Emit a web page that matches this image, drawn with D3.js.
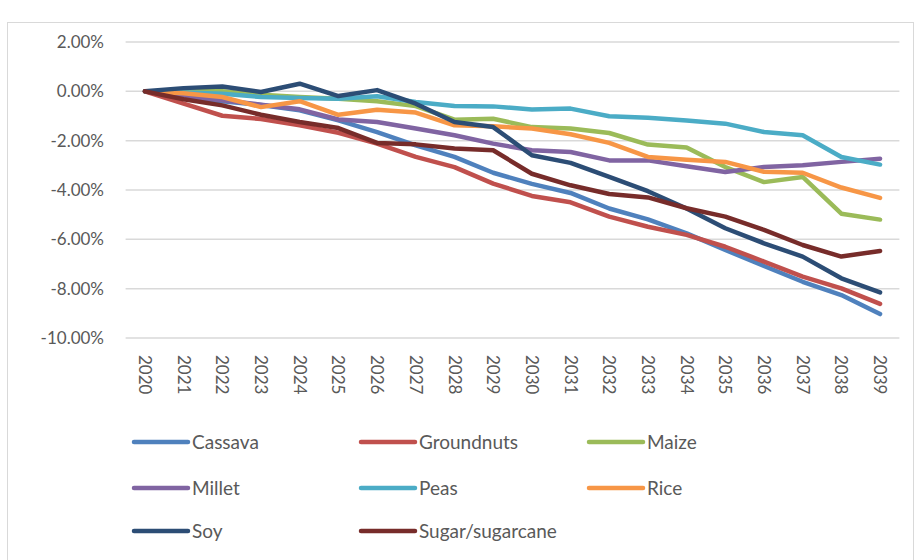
<!DOCTYPE html>
<html>
<head>
<meta charset="utf-8">
<script src="https://cdn.jsdelivr.net/npm/d3@7"></script>
<style>
  body { margin: 0; background: #fff; }
  svg text { font-family: Lato, "Open Sans", sans-serif; fill: #595959; }
</style>
</head>
<body>
<svg id="chart" width="917" height="560"></svg>
<script>
// data (% change vs 2020)
const years = d3.range(2020, 2040).map(String);
const yTicks = [2, 0, -2, -4, -6, -8, -10];

const cassava    = [0, -0.25, -0.4, -0.55, -0.77, -1.18, -1.65, -2.19, -2.66, -3.3, -3.75, -4.12, -4.75, -5.19, -5.76, -6.43, -7.08, -7.72, -8.26, -9.03];
const groundnuts = [0, -0.5, -0.99, -1.12, -1.38, -1.68, -2.12, -2.66, -3.07, -3.74, -4.24, -4.5, -5.08, -5.49, -5.82, -6.3, -6.9, -7.51, -7.99, -8.62];
const maize      = [0, 0.0, 0.0, -0.14, -0.23, -0.3, -0.4, -0.6, -1.15, -1.11, -1.45, -1.51, -1.69, -2.16, -2.28, -3.07, -3.68, -3.47, -4.96, -5.2];
const millet     = [0, -0.2, -0.36, -0.54, -0.73, -1.14, -1.24, -1.51, -1.78, -2.12, -2.39, -2.46, -2.8, -2.8, -3.04, -3.27, -3.07, -3.0, -2.86, -2.73];
const peas       = [0, -0.05, -0.1, -0.23, -0.27, -0.3, -0.2, -0.43, -0.59, -0.61, -0.74, -0.7, -1.01, -1.07, -1.18, -1.31, -1.65, -1.78, -2.66, -2.97];
const rice       = [0, -0.08, -0.23, -0.64, -0.4, -0.95, -0.75, -0.86, -1.38, -1.42, -1.51, -1.74, -2.09, -2.66, -2.77, -2.86, -3.26, -3.3, -3.9, -4.32];
const soy        = [0, 0.13, 0.2, -0.03, 0.31, -0.19, 0.05, -0.5, -1.24, -1.45, -2.59, -2.9, -3.47, -4.05, -4.75, -5.55, -6.16, -6.7, -7.58, -8.15];
const sugar      = [0, -0.32, -0.57, -0.95, -1.24, -1.49, -2.09, -2.15, -2.32, -2.39, -3.34, -3.81, -4.16, -4.3, -4.74, -5.08, -5.62, -6.23, -6.7, -6.47];

const seriesNames = ["Cassava", "Groundnuts", "Maize", "Millet", "Peas", "Rice", "Soy", "Sugar/sugarcane"];
const seriesValues = [cassava, groundnuts, maize, millet, peas, rice, soy, sugar];
const colors = ["#4F81BD", "#C0504D", "#9BBB59", "#8064A2", "#4BACC6", "#F79646", "#2C4D75", "#772C2A"];

const series = seriesNames.map((name, i) => ({ name, values: seriesValues[i], color: colors[i] }));

const svg = d3.select("#chart");

// outer border
svg.append("rect")
  .attr("x", 7.5).attr("y", 22.5)
  .attr("width", 906).attr("height", 545)
  .attr("fill", "none").attr("stroke", "#d9d9d9");

// scales
const x = d3.scalePoint().domain(years).range([125.6, 899.4]).padding(0.5);
const y = d3.scaleLinear().domain([-10, 2]).range([338, 42]);

// gridlines
svg.append("g")
  .selectAll("line")
  .data(yTicks)
  .join("line")
  .attr("x1", 125.6).attr("x2", 899.4)
  .attr("y1", d => y(d)).attr("y2", d => y(d))
  .attr("stroke", "#d9d9d9").attr("stroke-width", 1.5);

// y labels (plain hyphen like Excel)
svg.append("g")
  .selectAll("text")
  .data(yTicks)
  .join("text")
  .attr("x", 104)
  .attr("y", d => y(d))
  .attr("dy", "0.35em")
  .attr("text-anchor", "end")
  .attr("font-size", 17)
  .text(d => d3.format(".2f")(d).replace("\u2212", "-") + "%");

// x labels, rotated
svg.append("g")
  .selectAll("text")
  .data(years)
  .join("text")
  .attr("transform", d => `translate(${x(d)},355) rotate(90)`)
  .attr("dy", "0.35em")
  .attr("font-size", 17)
  .text(d => d);

// lines
const line = d3.line()
  .x((d, i) => x(years[i]))
  .y(d => y(d));

svg.append("g")
  .selectAll("path")
  .data(series)
  .join("path")
  .attr("d", d => line(d.values))
  .attr("fill", "none")
  .attr("stroke", d => d.color)
  .attr("stroke-width", 4.5)
  .attr("stroke-linejoin", "round")
  .attr("stroke-linecap", "round");

// legend: 3 columns
const legX = [134, 361, 589];
const legY = [442, 488, 531];
const leg = svg.append("g")
  .selectAll("g")
  .data(series)
  .join("g")
  .attr("transform", (d, i) => `translate(${legX[i % 3]},${legY[Math.floor(i / 3)]})`);

leg.append("line")
  .attr("x1", 0).attr("x2", 54)
  .attr("stroke", d => d.color)
  .attr("stroke-width", 4.5)
  .attr("stroke-linecap", "round");

leg.append("text")
  .attr("x", 58)
  .attr("dy", "0.35em")
  .attr("font-size", 19)
  .text(d => d.name);
</script>
</body>
</html>
